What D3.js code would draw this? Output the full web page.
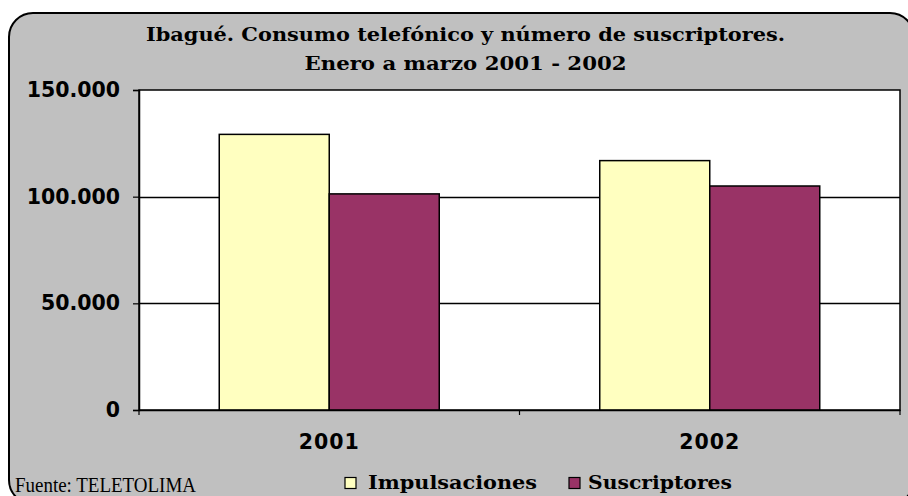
<!DOCTYPE html>
<html>
<head>
<meta charset="utf-8">
<script src="https://cdn.jsdelivr.net/npm/d3@7/dist/d3.min.js"></script>
<style>
  html, body { margin: 0; padding: 0; background: #ffffff; }
  svg { display: block; }
</style>
</head>
<body>
<svg id="chart" width="908" height="496"></svg>
<script>
// Consumo telefónico (impulsaciones) y suscriptores, Ibagué, enero a marzo
const years = ["2001", "2002"];
const seriesNames = ["Impulsaciones", "Suscriptores"];
const impulsaciones = [129200, 116900];
const suscriptores = [101300, 105000];
const yTicks = [0, 50000, 100000, 150000];
const titleLines = ["Ibagué. Consumo telefónico y número de suscriptores.", "Enero a marzo 2001 - 2002"];
const sourceNote = "Fuente: TELETOLIMA";

const colors = { Impulsaciones: "#FFFFC0", Suscriptores: "#993366" };

const svg = d3.select("#chart");

// Frame of the chart (rounded grey panel)
svg.append("rect")
  .attr("x", 9).attr("y", 13)
  .attr("width", 905).attr("height", 491)
  .attr("rx", 24).attr("ry", 24)
  .attr("fill", "#C0C0C0")
  .attr("stroke", "#000").attr("stroke-width", 2);

const plot = { left: 139, right: 900, top: 90, bottom: 410 };

// Plot area
svg.append("rect")
  .attr("x", plot.left).attr("y", plot.top)
  .attr("width", plot.right - plot.left).attr("height", plot.bottom - plot.top)
  .attr("fill", "#ffffff")
  .attr("stroke", "#000").attr("stroke-width", 1.5);

const x = d3.scaleBand().domain(years)
  .range([plot.left, plot.right])
  .paddingInner(0.4218).paddingOuter(0.2109);
const xs = d3.scaleBand().domain(seriesNames).range([0, x.bandwidth()]).padding(0);
const y = d3.scaleLinear().domain([0, 150000]).range([plot.bottom, plot.top]);

const locale = d3.formatLocale({ decimal: ",", thousands: ".", grouping: [3], currency: ["", ""] });
const fmt = locale.format(",d");

// Horizontal gridlines
svg.append("g").selectAll("line")
  .data(yTicks.filter(t => t > 0 && t < 150000))
  .join("line")
  .attr("x1", plot.left).attr("x2", plot.right)
  .attr("y1", d => Math.round(y(d)) + 0.5).attr("y2", d => Math.round(y(d)) + 0.5)
  .attr("stroke", "#000").attr("stroke-width", 1.4);

// Bars
const rows = years.map((yr, i) => ({ year: yr, values: [
  { name: "Impulsaciones", value: impulsaciones[i] },
  { name: "Suscriptores", value: suscriptores[i] }
]}));

svg.append("g").selectAll("g")
  .data(rows)
  .join("g")
  .attr("transform", d => `translate(${x(d.year)},0)`)
  .selectAll("rect")
  .data(d => d.values)
  .join("rect")
  .attr("x", d => xs(d.name))
  .attr("y", d => y(d.value))
  .attr("width", xs.bandwidth())
  .attr("height", d => y(0) - y(d.value))
  .attr("fill", d => colors[d.name])
  .attr("stroke", "#000").attr("stroke-width", 1.5);

// Y axis
const yAxis = svg.append("g")
  .attr("transform", `translate(${plot.left},0)`)
  .call(d3.axisLeft(y).tickValues(yTicks).tickFormat(fmt).tickSize(6).tickPadding(13));
yAxis.select(".domain").attr("stroke", "#000").attr("stroke-width", 1.5);
yAxis.selectAll(".tick line").attr("stroke", "#000").attr("stroke-width", 1.2);
yAxis.selectAll(".tick text")
  .attr("fill", "#000")
  .style("font-family", "'DejaVu Sans', Verdana, sans-serif")
  .style("font-weight", "bold")
  .style("font-size", "20.5px");

// X axis baseline; category labels centred in each band
const xAxis = svg.append("g")
  .attr("transform", `translate(0,${plot.bottom})`)
  .call(d3.axisBottom(x).tickSize(0).tickPadding(24));
xAxis.select(".domain").attr("stroke", "#000").attr("stroke-width", 1.5);
xAxis.selectAll(".tick text")
  .attr("fill", "#000")
  .style("font-family", "'DejaVu Sans', Verdana, sans-serif")
  .style("font-weight", "bold")
  .style("font-size", "20.5px")
  .style("letter-spacing", "1px");

// Tick marks at the boundaries between categories
const half = x.step() * x.paddingInner() / 2;
const boundaries = years.map(yr => x(yr) - half)
  .concat([x(years[years.length - 1]) + x.bandwidth() + half]);
xAxis.selectAll(".bound")
  .data(boundaries)
  .join("line")
  .attr("class", "bound")
  .attr("x1", d => d).attr("x2", d => d)
  .attr("y1", 0).attr("y2", 5)
  .attr("stroke", "#000").attr("stroke-width", 1.2);

// Title
const titleFont = "'DejaVu Serif', 'Bookman Old Style', serif";
const titleWidths = [639, 322];
svg.append("g").selectAll("text")
  .data(titleLines)
  .join("text")
  .attr("x", 465.5)
  .attr("y", (d, i) => 41 + i * 29)
  .attr("text-anchor", "middle")
  .attr("textLength", (d, i) => titleWidths[i])
  .attr("lengthAdjust", "spacingAndGlyphs")
  .style("font-family", titleFont)
  .style("font-weight", "bold")
  .style("font-size", "19px")
  .attr("fill", "#000")
  .text(d => d);

// Source note
svg.append("text")
  .attr("x", 15).attr("y", 491.5)
  .attr("textLength", 181)
  .attr("lengthAdjust", "spacingAndGlyphs")
  .style("font-family", "'Liberation Serif', 'Times New Roman', serif")
  .style("font-size", "20px")
  .attr("fill", "#000")
  .text(sourceNote);

// Legend
const legendItems = [
  { name: "Impulsaciones", sx: 345, tx: 368, w: 169 },
  { name: "Suscriptores", sx: 569, tx: 588, w: 144 }
];
const lg = svg.append("g");
lg.selectAll("rect")
  .data(legendItems)
  .join("rect")
  .attr("x", d => d.sx).attr("y", 477.5)
  .attr("width", 11).attr("height", 11)
  .attr("fill", d => colors[d.name])
  .attr("stroke", "#000").attr("stroke-width", 1.2);
lg.selectAll("text")
  .data(legendItems)
  .join("text")
  .attr("x", d => d.tx).attr("y", 489)
  .attr("textLength", d => d.w)
  .attr("lengthAdjust", "spacingAndGlyphs")
  .style("font-family", titleFont)
  .style("font-weight", "bold")
  .style("font-size", "18.5px")
  .attr("fill", "#000")
  .text(d => d.name);
</script>
</body>
</html>
